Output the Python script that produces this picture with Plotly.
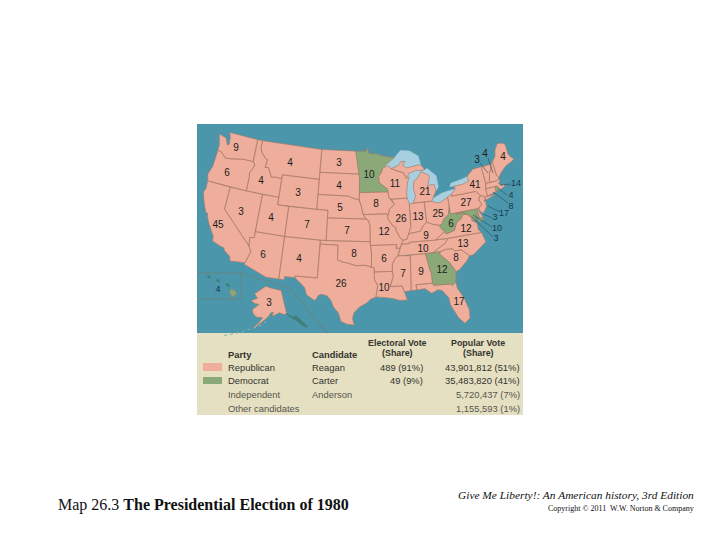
import math
import plotly.graph_objects as go

# Election results by state
STATES = ["WA","OR","CA","NV","ID","MT","WY","UT","CO","AZ","NM","ND","SD","NE","KS","OK","TX",
          "MN","IA","MO","AR","LA","WI","IL","MI","IN","OH","KY","TN","MS","AL","GA","FL","SC",
          "NC","VA","WV","MD","DE","PA","NY","NJ","CT","RI","MA","VT","NH","ME","HI","AK","DC"]
VOTES = [9,6,45,3,4,4,3,4,7,6,4,3,4,5,7,8,26,
         10,8,12,6,10,11,26,21,13,25,9,10,7,9,12,17,8,
         13,12,6,10,3,27,41,17,8,4,14,3,4,4,4,3,3]
CARTER_STATES = ["MN","GA","WV","MD","RI","DC","HI"]
# these numbers sit out in the water, next to a leader line
OFFSHORE = ["DE","NJ","CT","RI","MA","MD","DC","HI"]

# Table under the map
TABLE_PARTY = ["Republican","Democrat","Independent","Other candidates"]
TABLE_CANDIDATE = ["Reagan","Carter","Anderson",""]
TABLE_ELECTORAL = ["489 (91%)","49 (9%)","",""]
TABLE_POPULAR = ["43,901,812 (51%)","35,483,820 (41%)","5,720,437 (7%)","1,155,593 (1%)"]

# Outlines as (lon, lat), None starts a new ring
OUTLINES = {
 "WA":[(-124.7,48.4),(-123.2,48.15),(-122.6,47.3),(-122.3,47.4),(-122.4,48.3),(-122.8,49),(-117.03,49),(-117.04,46.4),(-116.92,46),(-118.98,46),(-119.3,45.93),(-121.2,45.65),(-122.3,45.55),(-122.8,45.9),(-123.4,46.2),(-124.05,46.27),(-124.1,47)],
 "OR":[(-124.05,46.27),(-123.4,46.2),(-122.8,45.9),(-122.3,45.55),(-121.2,45.65),(-119.3,45.93),(-118.98,46),(-116.92,46),(-116.5,45.5),(-117.2,44.4),(-117.03,44),(-117.03,42),(-124.2,42),(-124.55,42.85),(-124.1,44)],
 "CA":[(-124.2,42),(-120,42),(-120,39),(-114.63,35),(-114.13,34.3),(-114.72,32.72),(-117.12,32.53),(-117.3,33.1),(-118.4,33.75),(-118.5,34.03),(-119.2,34.15),(-120.6,34.55),(-120.65,35.15),(-121.9,36.6),(-122.5,37.5),(-122.5,37.8),(-123,38),(-123.8,39.3),(-124.35,40.4),(-124.1,41)],
 "NV":[(-120,42),(-114.04,42),(-114.04,36.2),(-114.75,36.1),(-114.63,35),(-120,39)],
 "ID":[(-117.03,49),(-116.05,49),(-116.05,48),(-115.7,47.45),(-114.7,46.7),(-114.35,46.65),(-114.5,45.55),(-113.9,45.65),(-113.45,45.05),(-113,44.45),(-112.3,44.55),(-111.05,44.48),(-111.05,42),(-117.03,42),(-117.03,44),(-117.2,44.4),(-116.5,45.5),(-116.92,46),(-117.04,46.4)],
 "MT":[(-116.05,49),(-104.05,49),(-104.05,45),(-111.05,45),(-111.05,44.48),(-112.3,44.55),(-113,44.45),(-113.45,45.05),(-113.9,45.65),(-114.5,45.55),(-114.35,46.65),(-114.7,46.7),(-115.7,47.45),(-116.05,48)],
 "WY":[(-111.05,45),(-104.05,45),(-104.05,41),(-111.05,41)],
 "UT":[(-114.04,42),(-111.05,42),(-111.05,41),(-109.05,41),(-109.05,37),(-114.04,37)],
 "CO":[(-109.05,41),(-102.05,41),(-102.05,37),(-109.05,37)],
 "AZ":[(-114.04,37),(-109.05,37),(-109.05,31.33),(-111.07,31.33),(-114.81,32.5),(-114.72,32.72),(-114.13,34.3),(-114.63,35),(-114.75,36.1),(-114.04,36.2)],
 "NM":[(-109.05,37),(-103,37),(-103.05,32),(-106.6,32),(-106.53,31.78),(-108.2,31.78),(-108.2,31.33),(-109.05,31.33)],
 "ND":[(-104.05,49),(-97.23,49),(-96.56,45.94),(-104.05,45.94)],
 "SD":[(-104.05,45.94),(-96.56,45.94),(-96.45,45.3),(-96.45,43.5),(-96.5,42.5),(-97.9,42.8),(-98.5,43),(-104.05,43)],
 "NE":[(-104.05,43),(-98.5,43),(-97.9,42.8),(-96.5,42.5),(-96.1,41.6),(-95.85,40.7),(-95.31,40),(-102.05,40),(-102.05,41),(-104.05,41)],
 "KS":[(-102.05,40),(-95.31,40),(-94.9,39.8),(-94.61,39.1),(-94.62,37),(-102.04,37)],
 "OK":[(-103,37),(-94.62,37),(-94.43,35.4),(-94.48,33.64),(-95.5,33.9),(-97,33.85),(-98.1,34.13),(-99.2,34.3),(-100,34.56),(-100,36.5),(-103,36.5)],
 "TX":[(-103,36.5),(-100,36.5),(-100,34.56),(-99.2,34.3),(-98.1,34.13),(-97,33.85),(-95.5,33.9),(-94.48,33.64),(-94.04,33.55),(-94.04,31.99),(-93.55,31.2),(-93.85,29.7),(-94.7,29.4),(-95.3,28.9),(-96.4,28.35),(-97.2,27.6),(-97.4,26.8),(-97.15,25.96),(-98.2,26.05),(-99.1,26.4),(-99.5,27.5),(-100.3,28.3),(-100.7,29.1),(-101.4,29.77),(-102.3,29.88),(-102.7,29.7),(-103.15,28.98),(-104.5,29.65),(-104.9,30.6),(-106.53,31.78),(-106.6,32),(-103.05,32)],
 "MN":[(-97.23,49),(-95.15,49),(-95.15,49.38),(-94.8,49.3),(-94.6,48.7),(-93,48.6),(-92,48.3),(-90.8,48.2),(-89.6,48),(-91,47.3),(-92,46.7),(-92.3,46.1),(-92.85,45.6),(-92.75,44.75),(-91.25,43.85),(-91.22,43.5),(-96.45,43.5),(-96.45,45.3),(-96.56,45.94)],
 "IA":[(-96.45,43.5),(-91.22,43.5),(-91.1,42.7),(-90.15,41.8),(-91.1,41.2),(-91.4,40.4),(-91.73,40.61),(-95.77,40.58),(-96.1,41.6),(-96.5,42.5)],
 "MO":[(-95.77,40.58),(-91.73,40.61),(-91.4,40.4),(-91.5,40),(-90.7,39),(-90.15,38.75),(-90.2,38.4),(-89.5,37.3),(-89.1,37),(-89.4,36.5),(-89.7,36),(-90.37,36),(-90.2,36.5),(-94.62,36.5),(-94.62,37),(-94.61,39.1),(-94.9,39.8),(-95.31,40)],
 "AR":[(-94.62,36.5),(-90.2,36.5),(-90.37,36),(-89.7,36),(-90.1,35),(-90.6,34.7),(-91.1,33.9),(-91.15,33),(-94.04,33),(-94.04,33.55),(-94.48,33.64),(-94.43,35.4)],
 "LA":[(-94.04,33),(-91.15,33),(-91.05,32.4),(-91.6,31),(-89.73,31),(-89.5,30.2),(-89.4,29.8),(-89.1,29.1),(-90.2,29.1),(-91.3,29.4),(-92.3,29.55),(-93.85,29.7),(-93.55,31.2),(-94.04,31.99)],
 "WI":[(-92,46.7),(-90.8,46.95),(-90.4,46.55),(-89,46.1),(-88.1,45.9),(-87.6,45.1),(-87.05,45.3),(-87.5,44.5),(-87.8,43.2),(-87.8,42.5),(-90.65,42.5),(-91.1,42.7),(-91.22,43.5),(-91.25,43.85),(-92.75,44.75),(-92.85,45.6),(-92.3,46.1)],
 "IL":[(-90.65,42.5),(-87.8,42.5),(-87.5,41.7),(-87.53,39.35),(-87.6,38.7),(-88.05,37.8),(-88.45,37.1),(-89.1,37),(-89.5,37.3),(-90.2,38.4),(-90.15,38.75),(-90.7,39),(-91.5,40),(-91.4,40.4),(-91.1,41.2),(-90.15,41.8)],
 "MI":[(-86.8,41.76),(-84.8,41.76),(-83.45,41.73),(-83.1,42.2),(-82.45,43),(-82.6,43.9),(-83.4,43.9),(-83.9,43.7),(-83.3,44.9),(-83.35,45.2),(-84.75,45.78),(-85.6,44.95),(-86.25,44.7),(-86.5,43.7),(-86.25,42.6),None,
       (-90.4,46.55),(-89,46.9),(-88.4,47.4),(-87.6,47.4),(-88.2,46.95),(-87.4,46.5),(-85,46.75),(-84.4,46.5),(-84,46),(-84.75,45.95),(-85.6,46.05),(-86.6,45.85),(-87.05,45.75),(-87.6,45.1),(-88.1,45.9),(-89,46.1)],
 "IN":[(-87.5,41.7),(-87.2,41.75),(-86.8,41.76),(-84.8,41.76),(-84.8,39.1),(-85.4,38.7),(-86,38),(-87.05,37.9),(-88.05,37.8),(-87.6,38.7),(-87.53,39.35)],
 "OH":[(-84.8,41.76),(-83.45,41.73),(-82.5,41.4),(-81.7,41.5),(-80.52,41.98),(-80.52,40.64),(-80.85,39.7),(-81.7,39.25),(-82.2,38.6),(-82.6,38.45),(-83.7,38.65),(-84.8,39.1)],
 "KY":[(-89.4,36.5),(-88.07,36.5),(-88.07,36.68),(-83.68,36.6),(-82,37.53),(-82.6,38.17),(-82.6,38.45),(-83.7,38.65),(-84.8,39.1),(-85.4,38.7),(-86,38),(-87.05,37.9),(-88.05,37.8),(-88.45,37.1),(-89.1,37)],
 "TN":[(-90.1,35),(-89.7,36),(-89.4,36.5),(-88.07,36.5),(-88.07,36.68),(-83.68,36.6),(-81.68,36.59),(-82,36.1),(-84.32,35),(-85.6,34.98),(-88.2,34.99)],
 "MS":[(-90.1,35),(-88.2,34.99),(-88.1,34.9),(-88.4,30.3),(-89.5,30.2),(-89.73,31),(-91.6,31),(-91.05,32.4),(-91.15,33),(-91.1,33.9),(-90.6,34.7)],
 "AL":[(-88.2,34.99),(-85.6,34.98),(-85.18,32.87),(-85,32.3),(-85,31),(-87.6,31),(-87.5,30.3),(-88.4,30.3),(-88.1,34.9)],
 "GA":[(-85.6,34.98),(-83.1,35),(-83.35,34.7),(-82,33.5),(-81.1,32.1),(-81.4,30.72),(-82.05,30.36),(-82.2,30.57),(-84.86,30.7),(-85,31),(-85,32.3),(-85.18,32.87)],
 "FL":[(-87.6,31),(-85,31),(-84.86,30.7),(-82.2,30.57),(-82.05,30.36),(-81.4,30.72),(-81.3,29.9),(-80.5,28.4),(-80.05,26.8),(-80.15,25.7),(-81,25.1),(-81.8,26),(-82.7,27.8),(-82.8,28.8),(-83.7,29.9),(-84.3,30.05),(-85.3,29.68),(-86.3,30.4),(-87.5,30.3)],
 "SC":[(-83.1,35),(-82.3,35.2),(-81.05,35.15),(-80.8,34.82),(-79.67,34.8),(-78.55,33.85),(-79.2,33.2),(-80.5,32.3),(-81.1,32.1),(-82,33.5),(-83.35,34.7)],
 "NC":[(-84.32,35),(-82,36.1),(-81.68,36.59),(-75.87,36.55),(-75.5,35.25),(-76.5,34.7),(-77.9,33.9),(-78.55,33.85),(-79.67,34.8),(-80.8,34.82),(-81.05,35.15),(-82.3,35.2),(-83.1,35)],
 "VA":[(-83.68,36.6),(-81.68,36.59),(-75.87,36.55),(-76.3,37),(-76.3,37.9),(-77,38.3),(-77.05,38.85),(-77.5,39.1),(-77.75,39.3),(-78.35,39.4),(-78.9,38.8),(-79.65,38.55),(-80.3,37.5),(-81.7,37.2),(-82,37.53)],
 "WV":[(-82,37.53),(-81.7,37.2),(-80.3,37.5),(-79.65,38.55),(-78.9,38.8),(-78.35,39.4),(-77.75,39.3),(-78.4,39.65),(-79.48,39.5),(-79.48,39.72),(-80.52,39.72),(-80.52,40.64),(-80.85,39.7),(-81.7,39.25),(-82.2,38.6),(-82.6,38.45),(-82.6,38.17)],
 "MD":[(-79.48,39.72),(-75.79,39.72),(-75.7,38.46),(-75.05,38.45),(-75.25,38.03),(-75.9,37.95),(-76.2,39.2),(-76.4,38.3),(-77,38.3),(-77.05,38.85),(-77.5,39.1),(-77.75,39.3),(-78.4,39.65),(-79.48,39.5)],
 "DC":[(-77.12,38.93),(-77.04,39),(-76.91,38.89),(-77.04,38.79)],
 "DE":[(-75.79,39.72),(-75.4,39.8),(-75.55,39.4),(-75.05,38.45),(-75.7,38.46)],
 "PA":[(-80.52,41.98),(-79.76,42.27),(-79.76,42),(-75.35,42),(-74.7,41.36),(-75.1,40.95),(-75.1,40.65),(-74.75,40.2),(-75.4,39.8),(-75.79,39.72),(-80.52,39.72)],
 "NY":[(-79.76,42.27),(-78.9,42.85),(-79.05,43.27),(-77.5,43.27),(-76.2,43.55),(-76.3,44.2),(-75,44.95),(-73.35,45.01),(-73.3,43.6),(-73.25,42.75),(-73.5,42.05),(-73.49,41.2),(-73.7,41),(-72,41.05),(-73.75,40.6),(-74,40.7),(-73.9,41),(-74.7,41.36),(-75.35,42),(-79.76,42)],
 "NJ":[(-74.7,41.36),(-73.9,41),(-74.25,40.45),(-74,40.4),(-74.1,39.7),(-74.9,38.95),(-75.5,39.5),(-75.4,39.8),(-74.75,40.2),(-75.1,40.65),(-75.1,40.95)],
 "CT":[(-73.49,41.2),(-73.5,42.05),(-71.8,42.02),(-71.8,41.35),(-73.7,41)],
 "RI":[(-71.8,42.02),(-71.38,42.02),(-71.15,41.5),(-71.8,41.35)],
 "MA":[(-73.5,42.05),(-73.25,42.75),(-71.3,42.7),(-70.8,42.87),(-70.6,42.65),(-71,42.3),(-70.6,41.95),(-70,42.05),(-70.05,41.75),(-70.65,41.55),(-71.15,41.5),(-71.38,42.02),(-71.8,42.02)],
 "VT":[(-73.35,45.01),(-71.5,45.01),(-71.6,44.5),(-72.05,44.1),(-72.45,43.1),(-72.46,42.73),(-73.25,42.75),(-73.3,43.6)],
 "NH":[(-71.5,45.01),(-71.08,45.3),(-70.98,43.4),(-70.7,43.07),(-70.8,42.87),(-71.3,42.7),(-72.46,42.73),(-72.45,43.1),(-72.05,44.1),(-71.6,44.5)],
 "ME":[(-71.08,45.3),(-70.3,45.9),(-70,46.7),(-69.25,47.45),(-68.3,47.35),(-67.8,47.05),(-67.8,45.7),(-67.45,45.2),(-67,44.8),(-68.8,44.3),(-69.8,43.75),(-70.7,43.07),(-70.98,43.4)],
 "HI":[(-155.9,20.2),(-155.1,19.9),(-154.85,19.5),(-155.65,18.95),(-156.05,19.7)],
 "AK":[(-141,69.6),(-141,60.3),(-143,60),(-146,60.7),(-148.5,60),(-151.5,59.3),(-150,60.9),(-152,60.7),(-154,59),(-157,57.5),(-161,55.2),(-163,54.8),(-160,56.5),(-157.5,58.7),(-162,59),(-164.5,60.5),(-165.5,62),(-161,64),(-165,64.5),(-168,65.6),(-163,66.5),(-166.5,68.3),(-163,69.5),(-156.5,71.3),(-150,70.5)],
}
HI_SMALL = [(-156.7,21),(-156.25,20.95),(-156,20.7),(-156.4,20.6),None,
            (-158.25,21.55),(-157.95,21.7),(-157.7,21.3),(-158.1,21.3),None,
            (-159.75,22.1),(-159.4,22.2),(-159.3,21.95),(-159.6,21.9)]
AK_SOUTHEAST = [(-141,60.3),(-139.5,59.8),(-137.5,58.9),(-135,59.5),(-133,57.5),(-131,56),(-130,55.2),(-131.5,55),(-133.5,56),(-135.5,57.5),(-137.5,58.3),(-139.5,59.6)]
ALEUTIANS = [(-155,57.2),(-158,55.8),(-161,54.9),(-164,54.4),(-166.5,53.8),(-169,53),(-172,52.4),(-176,51.9),(-179,51.6)]
LAKES = [
 [(-92,46.7),(-90.8,46.95),(-90.4,46.55),(-89,46.9),(-88.4,47.4),(-87.6,47.4),(-88.2,46.95),(-87.4,46.5),(-85,46.75),(-84.6,46.5),(-84.9,47.9),(-86.5,48.7),(-88.3,48.9),(-89.6,48),(-91,47.3)],
 [(-87.5,41.7),(-87.2,41.75),(-86.8,41.76),(-86.25,42.6),(-86.5,43.7),(-86.25,44.7),(-85.6,44.95),(-84.75,45.78),(-84.75,45.95),(-85.6,46.05),(-86.6,45.85),(-87.05,45.75),(-87.6,45.1),(-87.05,45.3),(-87.5,44.5),(-87.8,43.2),(-87.8,42.5)],
 [(-84.75,45.78),(-83.35,45.2),(-83.3,44.9),(-83.9,43.7),(-83.4,43.9),(-82.6,43.9),(-82.45,43),(-81.9,43.5),(-82,45),(-83.5,46.1),(-84,46)],
 [(-83.45,41.73),(-82.5,41.4),(-81.7,41.5),(-80.52,41.98),(-79.76,42.27),(-78.9,42.85),(-80,42.8),(-81.5,42.6),(-83.1,42.1)],
 [(-79.05,43.27),(-77.5,43.27),(-76.2,43.55),(-76.3,44.15),(-77.5,43.95),(-79.5,43.7),(-79.8,43.3)],
]

# Vote numbers on the map, same order as STATES
LABEL_X = [236,227,218,241,261,290,298,271,307,263,299,339,339,340,347,354,341,
           369,376,384,384,384,395,401,425,418,438,426,423,403,421,442,459,456,
           463,466,451,497,495,466,475,504,511,511,516,477,485,503,218,269,496]
LABEL_Y = [148,173,225,212,181,163,193,218,225,255,259,163,186,208,231,254,284,
           175,204,232,259,288,184,219,192,217,214,236,249,274,272,270,302,258,
           244,229,224,229,218,203,185,214,207,196,184,160,154,157,290,303,239]
# VT NH MA RI CT NJ DE MD DC
LEADERS = [(480,163,488,173),(488,158,493,173),(511,184,500,185),(507,195,498,188),(508,203,493,192),
           (500,212,488,206),(492,218,483,214),(492,227,473,215),(493,237,472,217)]

PINK = "#eeae9b"
GREEN = "#8aa878"
OCEAN = "#4b96ab"
LAKE = "#a8cfe0"
BORDER = "#a87a66"
PANEL = "#e5e0c2"
INK = "#33332e"
DEEP = "#3f8078"


# Albers conic for the lower 48
def albers(lon, lat):
    n = 0.60285
    c = 1.3512
    rho0 = 1.3032
    rho = math.sqrt(c - 2*n*math.sin(math.radians(lat)))/n
    theta = n*math.radians(lon + 96)
    return 362 + 431*rho*math.sin(theta), 238 - 431*(rho0 - rho*math.cos(theta))


def alaska(lon, lat):
    return 268 + (lon + 154)*math.cos(math.radians(lat))*2.9, 307 - (lat - 63)*2.5


def hawaii(lon, lat):
    return 233 + (lon + 155.5)*6, 293 - (lat - 19.6)*6.6


def rings(points, project):
    xs, ys = [], []
    first = None
    for p in points:
        if p is None:
            x, y = project(*first)
            xs += [x, None]
            ys += [y, None]
            first = None
            continue
        if first is None:
            first = p
        x, y = project(*p)
        xs.append(x)
        ys.append(y)
    x, y = project(*first)
    return xs + [x, None], ys + [y, None]


def state_rings(code):
    project = {"AK": alaska, "HI": hawaii}.get(code, albers)
    return rings(OUTLINES[code], project)


fig = go.Figure()

lake_x, lake_y = [], []
for lake in LAKES:
    x, y = rings(lake, albers)
    lake_x += x
    lake_y += y
fig.add_trace(go.Scatter(x=lake_x, y=lake_y, mode="lines", fill="toself", fillcolor=LAKE,
                         line=dict(color=LAKE, width=0.5), showlegend=False))

for color, members in [(PINK, [s for s in STATES if s not in CARTER_STATES]), (GREEN, CARTER_STATES)]:
    xs, ys = [], []
    for code in members:
        x, y = state_rings(code)
        xs += x
        ys += y
    fig.add_trace(go.Scatter(x=xs, y=ys, mode="lines", fill="toself", fillcolor=color,
                             line=dict(color=BORDER, width=0.6), showlegend=False))

# Small islands and the Alaska panhandle are darker than the states
for points, project in [(AK_SOUTHEAST, alaska), (HI_SMALL, hawaii)]:
    x, y = rings(points, project)
    fig.add_trace(go.Scatter(x=x, y=y, mode="lines", fill="toself", fillcolor=DEEP,
                             line=dict(color=DEEP, width=1), showlegend=False))
fig.add_trace(go.Scatter(x=[alaska(*p)[0] for p in ALEUTIANS], y=[alaska(*p)[1] for p in ALEUTIANS],
                         mode="lines", line=dict(color="#7fb6ae", width=1, dash="dot"), showlegend=False))

offshore = [s in OFFSHORE for s in STATES]
fig.add_trace(go.Scatter(x=LABEL_X, y=LABEL_Y, mode="text", text=[str(v) for v in VOTES],
                         textposition="middle center",
                         textfont=dict(family="Liberation Sans",
                                       size=[9 if o else 10 for o in offshore],
                                       color=["#16384e" if o else "#1c1c1c" for o in offshore]),
                         showlegend=False))

# Background panels, inset frame, leader lines
shapes = [
    dict(type="rect", x0=197, x1=523, y0=124, y1=333, fillcolor=OCEAN, line_width=0, layer="below"),
    dict(type="rect", x0=197, x1=523, y0=333, y1=415, fillcolor=PANEL, line_width=0, layer="below"),
    dict(type="rect", x0=203, x1=222, y0=363, y1=371, fillcolor=PINK, line_width=0),
    dict(type="rect", x0=203, x1=222, y0=377, y1=384, fillcolor=GREEN, line_width=0),
    dict(type="path", path="M197,273 L241,273 L241,299 L197,299", line=dict(color="#5f8a8f", width=1.3), layer="below"),
    dict(type="path", path="M241,273 L290,288 L327,333", line=dict(color="#5f8a8f", width=1.3), layer="below"),
]
for x0, y0, x1, y1 in LEADERS:
    shapes.append(dict(type="line", x0=x0, y0=y0, x1=x1, y1=y1, line=dict(color="#1f4f5a", width=0.6)))


def note(text, x, y, anchor="left", size=9.4, family="Liberation Sans", color=INK):
    return dict(text=text, x=x, y=y, xref="x", yref="y", xanchor=anchor, yanchor="middle",
                showarrow=False, font=dict(family=family, size=size, color=color), borderpad=0, borderwidth=0)


notes = [
    note("<b>Party</b>", 228, 354), note("<b>Candidate</b>", 312, 354),
    note("<b>Electoral Vote</b>", 397, 343, "center", size=8.9), note("<b>(Share)</b>", 397, 353, "center", size=8.9),
    note("<b>Popular Vote</b>", 478, 343, "center", size=8.9), note("<b>(Share)</b>", 478, 353, "center", size=8.9),
]
ROW_Y = [367, 380, 394, 408]
for i in range(4):
    shade = INK if i < 2 else "#55554c"
    notes.append(note(TABLE_PARTY[i], 228, ROW_Y[i], color=shade))
    if TABLE_CANDIDATE[i]:
        notes.append(note(TABLE_CANDIDATE[i], 312, ROW_Y[i], color=shade))
    if TABLE_ELECTORAL[i]:
        notes.append(note(TABLE_ELECTORAL[i], 423, ROW_Y[i], "right", color=shade))
    notes.append(note(TABLE_POPULAR[i], 520, ROW_Y[i], "right", color=shade))

notes += [
    note("Map 26.3 <b>The Presidential Election of 1980</b>", 58, 505, size=16, family="Liberation Serif", color="#111111"),
    note("<i>Give Me Liberty!: An American history, 3rd Edition</i>", 694, 495, "right", size=11.4, family="Liberation Serif", color="#111111"),
    note("Copyright © 2011  W.W. Norton &amp; Company", 694, 508, "right", size=8, family="Liberation Serif", color="#111111"),
]

# The page body has an 8px margin, the ranges take it out so axis units are window pixels
fig.update_layout(
    width=720, height=540, margin=dict(l=0, r=0, t=0, b=0),
    paper_bgcolor="white", plot_bgcolor="white",
    xaxis=dict(range=[8, 728], visible=False, fixedrange=True),
    yaxis=dict(range=[548, 8], visible=False, fixedrange=True),
    shapes=shapes, annotations=notes, showlegend=False,
)

fig.write_html("out.html")
